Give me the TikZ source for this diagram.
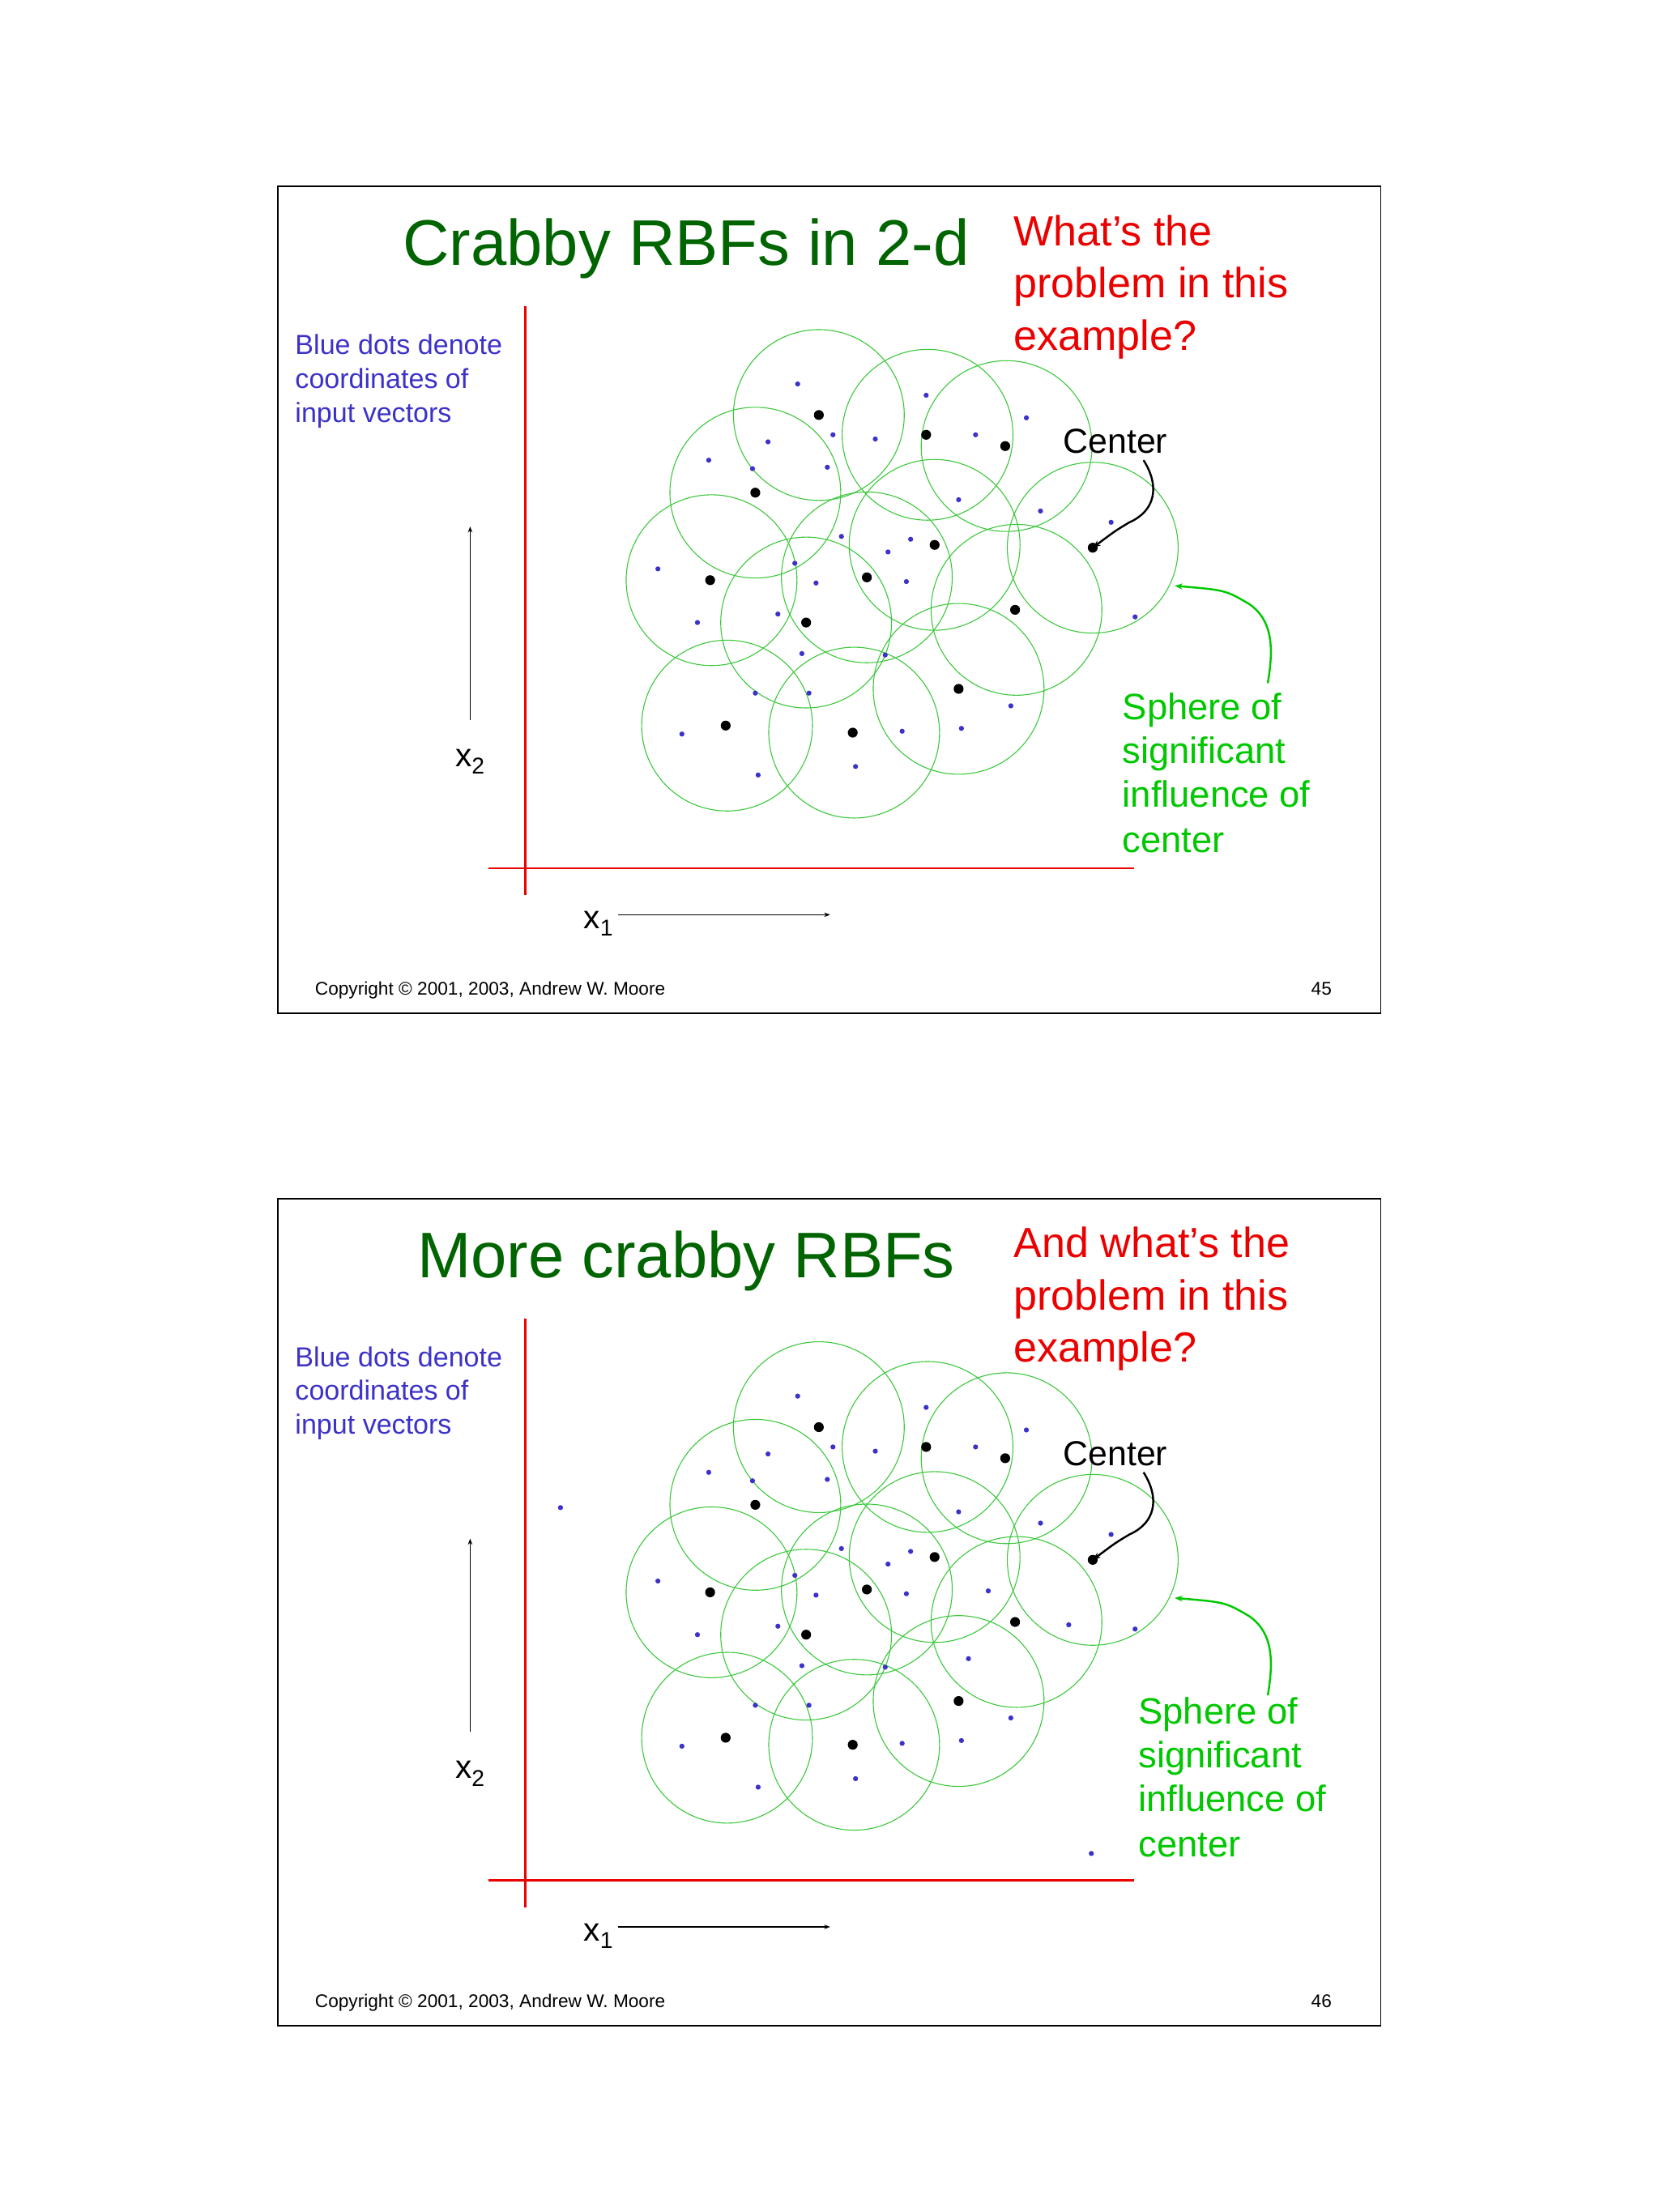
\documentclass[tikz,border=0pt]{standalone}
\usepackage{fontspec}
\setmainfont{Liberation Sans}
\usetikzlibrary{arrows.meta}
\definecolor{tgreen}{RGB}{0,100,0}
\definecolor{cgreen}{RGB}{60,200,60}
\definecolor{agreen}{RGB}{0,200,0}
\definecolor{bdot}{RGB}{60,50,200}
\definecolor{rred}{RGB}{235,0,0}
\tikzset{
 circ/.style={draw=cgreen,line width=0.9pt},
 bd/.style={fill=bdot},
 kd/.style={fill=black},
 titletxt/.style={anchor=base,text=tgreen,font=\fontsize{65}{70}\selectfont,inner sep=0},
 redtxt/.style={anchor=base west,text=rred,font=\fontsize{42.5}{46}\selectfont,inner sep=0},
 bluetxt/.style={anchor=base west,text=bdot,font=\fontsize{27.8}{30}\selectfont,inner sep=0},
 greentxt/.style={anchor=base west,text=agreen,font=\fontsize{37}{40}\selectfont,inner sep=0},
 smalltxt/.style={inner sep=0,font=\fontsize{18.5}{20}\selectfont},
 axis/.style={draw=rred,line width=2pt},
}
\newcommand{\myslide}[8]{%
\begin{scope}[shift={(0,#1)}]
 \draw[line width=1.6pt] (197,132) rectangle (978,718);
 \node[titletxt] (title#7) at (486,188) {#2};
 \node[redtxt] (r1#7) at (718,174) {#3};
 \node[redtxt] (r2#7) at (718,211) {problem in this};
 \node[redtxt] (r3#7) at (718,248) {example?};
 \node[bluetxt] at (209,251) {Blue dots denote};
 \node[bluetxt] at (209,275) {coordinates of};
 \node[bluetxt] at (209,299) {input vectors};
 \draw[axis] (372,217) -- (372,634);
 \draw[axis] (346,615) -- (803,615);
 \coordinate (x2a#7) at (333,510); \coordinate (x2b#7) at (333,373);
 \draw[-{Stealth[length=6pt]},line width=0.9pt] (x2a#7) -- (x2b#7);
 \node[anchor=base,inner sep=0,font=\fontsize{33}{36}\selectfont] at (333,543) {x\textsubscript{2}};
 \node[anchor=base,inner sep=0,font=\fontsize{33}{36}\selectfont] at (424,658) {x\textsubscript{1}};
 \coordinate (x1a#7) at (438,648); \coordinate (x1b#7) at (588,648);
 \draw[-{Stealth[length=6pt]},line width=0.9pt] (x1a#7) -- (x1b#7);
 \node[smalltxt,anchor=base west] at (223,705) {Copyright © 2001, 2003, Andrew W. Moore};
 \node[smalltxt,anchor=base] at (936,705) {#6};
 \foreach \x/\y in {580/294,657/308,713/316,535/349,662/386,774/388,504/411,614/409,571/441,720/432,679/488,515/514,605/519}
   \draw[circ] (\x,\y) circle (60.5);
 \foreach \x/\y in {580/294,656/308,712/316,535/349,662/386,774/388,503/411,614/409,571/441,719/432,679/488,514/514,604/519}
   \fill[kd] (\x,\y) circle (3.5);
 \foreach \x/\y in {565/272,656/280,727/296,590/308,620/311,691/308,544/313,502/326,586/331,533/332,679/354,737/362,787/370,596/380,645/382,629/391,563/399,466/403,578/413,642/412,551/435,494/441,804/437,627/464,568/463,535/491,573/491,716/500,639/518,681/516,483/520,537/549,606/543}
   \fill[bd] (\x,\y) circle (1.8);
 #5
 \node[anchor=base,inner sep=0,font=\fontsize{35}{38}\selectfont] (cen#7) at (790,321) {Center};
 \coordinate (cdot#7) at (774,388);
 \draw[line width=2pt,-{Stealth[length=8pt]}] (810,326) .. controls (822,345) and (818,362) .. (800,370) .. controls (790,376) .. (cdot#7);
 \coordinate (ga#7) at (898,484); \coordinate (gb#7) at (832,415);
 \draw[agreen,line width=2pt,-{Stealth[length=8pt]}] (ga#7) .. controls (902,460) and (902,440) .. (885,428) .. controls (868,418) .. (gb#7);
 \begin{scope}[xshift=#4,yshift=#8]
 \node[greentxt] at (795,510) {Sphere of};
 \node[greentxt] at (795,541) {significant};
 \node[greentxt] at (795,572) {influence of};
 \node[greentxt] at (795,604) {center};
 \end{scope}
\end{scope}}
\begin{document}
\begin{tikzpicture}[x=0.05cm,y=-0.05cm]
\useasboundingbox[fill=white] (0,0) rectangle (1175,1567);
\myslide{0}{Crabby RBFs in 2-d}{What’s the}{0}{}{45}{A}{0}
\myslide{717}{More crabby RBFs}{And what’s the}{16}{\foreach \x/\y in {397/351,773/596,686/458,757/434,700/410} \fill[bd] (\x,\y) circle (1.8);}{46}{B}{8}
\end{tikzpicture}
\end{document}
